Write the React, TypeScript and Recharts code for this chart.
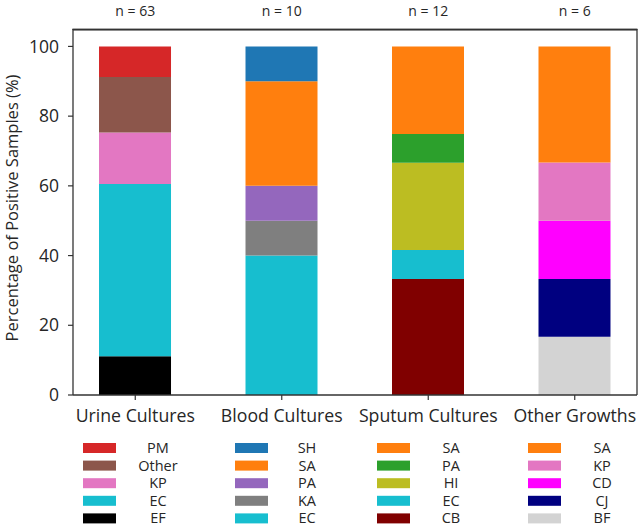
import React from 'react';
import { BarChart, Bar, XAxis, YAxis, Cell, ReferenceLine } from 'recharts';

// ---- data ----
const categories = ['Urine Cultures', 'Blood Cultures', 'Sputum Cultures', 'Other Growths'];
const sampleCounts = [63, 10, 12, 6];

// segments listed bottom -> top
const urineSpecies = ['EF', 'EC', 'KP', 'Other', 'PM'];
const urineValues = [11.1, 49.4, 14.8, 15.9, 8.8];
const urineColors = ['#000000', '#17becf', '#e377c2', '#8c564b', '#d62728'];

const bloodSpecies = ['EC', 'KA', 'PA', 'SA', 'SH'];
const bloodValues = [40, 10, 10, 30, 10];
const bloodColors = ['#17becf', '#7f7f7f', '#9467bd', '#ff7f0e', '#1f77b4'];

const sputumSpecies = ['CB', 'EC', 'HI', 'PA', 'SA'];
const sputumValues = [33.3, 8.3, 25, 8.3, 25.1];
const sputumColors = ['#800000', '#17becf', '#bcbd22', '#2ca02c', '#ff7f0e'];

const otherSpecies = ['BF', 'CJ', 'CD', 'KP', 'SA'];
const otherValues = [16.7, 16.6, 16.7, 16.7, 33.3];
const otherColors = ['#d3d3d3', '#000080', '#ff00ff', '#e377c2', '#ff7f0e'];

const yTicks = [0, 20, 40, 60, 80, 100];

const speciesByCat = [urineSpecies, bloodSpecies, sputumSpecies, otherSpecies];
const valuesByCat = [urineValues, bloodValues, sputumValues, otherValues];
const colorsByCat = [urineColors, bloodColors, sputumColors, otherColors];
const layerKeys = ['s0', 's1', 's2', 's3', 's4'];

const tableData = categories.map((c, i) => {
  const row: any = { idx: i, name: c };
  layerKeys.forEach((k, j) => {
    row[k] = valuesByCat[i][j];
  });
  return row;
});

const FONT = '"Open Sans", sans-serif';
const TXT = '#262626';
const AX = '#333333';

// layout
const legendPatchX = [83, 235, 377, 528];
const legendTextX = [158, 307, 451, 602];
const legendRowY0 = 448;
const legendRowStep = 17.6;

function Legends() {
  return (
    <svg
      width={639}
      height={527}
      style={{ position: 'absolute', left: 0, top: 0, pointerEvents: 'none' }}
    >
      <rect x={72.4} y={28.6} width={565} height={1.5} fill={AX} />
      {categories.map((c, ci) => {
        const sp = [...speciesByCat[ci]].reverse();
        const col = [...colorsByCat[ci]].reverse();
        return (
          <g key={c}>
            {sp.map((s, j) => {
              const cy = legendRowY0 + j * legendRowStep;
              return (
                <g key={s + j}>
                  <rect x={legendPatchX[ci]} y={cy - 5} width={33} height={10} fill={col[j]} />
                  <text
                    x={legendTextX[ci]}
                    y={cy + 5}
                    textAnchor="middle"
                    fontFamily={FONT}
                    fontSize={14.5}
                    fill={TXT}
                  >
                    {s}
                  </text>
                </g>
              );
            })}
          </g>
        );
      })}
    </svg>
  );
}

export default function App() {
  return (
    <div
      style={{
        position: 'absolute',
        left: 0,
        top: 0,
        width: 639,
        height: 527,
        background: '#fff',
      }}
    >
      <BarChart
        width={639}
        height={527}
        data={tableData}
        margin={{ top: 0, right: 2, left: 0, bottom: 92 }}
      >
        <XAxis
          xAxisId="top"
          orientation="top"
          dataKey="idx"
          type="number"
          domain={[-0.425, 3.425]}
          ticks={[0, 1, 2, 3]}
          allowDataOverflow
          height={29}
          tickLine={false}
          tickSize={0}
          tickMargin={13}
          tickFormatter={(v: number) => `n = ${sampleCounts[v]}`}
          tick={{ fontFamily: FONT, fontSize: 14, fill: TXT }}
          axisLine={false}
        />
        <XAxis
          dataKey="idx"
          type="number"
          domain={[-0.425, 3.425]}
          ticks={[0, 1, 2, 3]}
          allowDataOverflow
          height={40}
          tickSize={5}
          tickMargin={9}
          tickFormatter={(v: number) => categories[v]}
          tick={{ fontFamily: FONT, fontSize: 17.7, fill: TXT }}
          tickLine={{ stroke: AX, strokeWidth: 1.2 }}
          axisLine={{ stroke: AX, strokeWidth: 1.3 }}
          interval={0}
        />
        <YAxis
          type="number"
          domain={[0, 105]}
          ticks={yTicks}
          allowDataOverflow
          width={73}
          tickSize={5}
          tickMargin={9}
          tick={{ fontFamily: FONT, fontSize: 17.5, fill: TXT }}
          tickLine={{ stroke: AX, strokeWidth: 1.2 }}
          axisLine={{ stroke: AX, strokeWidth: 1.3 }}
          label={{
            value: 'Percentage of Positive Samples (%)',
            angle: -90,
            position: 'insideLeft',
            offset: 0,
            dx: 12,
            dy: -4,
            style: { fontFamily: FONT, fontSize: 16.5, fill: TXT, textAnchor: 'middle' },
          }}
        />
        <ReferenceLine x={3.425} stroke={AX} strokeWidth={1.3} ifOverflow="visible" />
        <ReferenceLine y={104.8} stroke={AX} strokeWidth={1.6} ifOverflow="visible" />
        {layerKeys.map((k, j) => (
          <Bar key={k} dataKey={k} stackId="a" barSize={72} isAnimationActive={false}>
            {tableData.map((row, i) => (
              <Cell key={`${k}-${i}`} fill={colorsByCat[i][j]} />
            ))}
          </Bar>
        ))}
      </BarChart>
      <Legends />
    </div>
  );
}
